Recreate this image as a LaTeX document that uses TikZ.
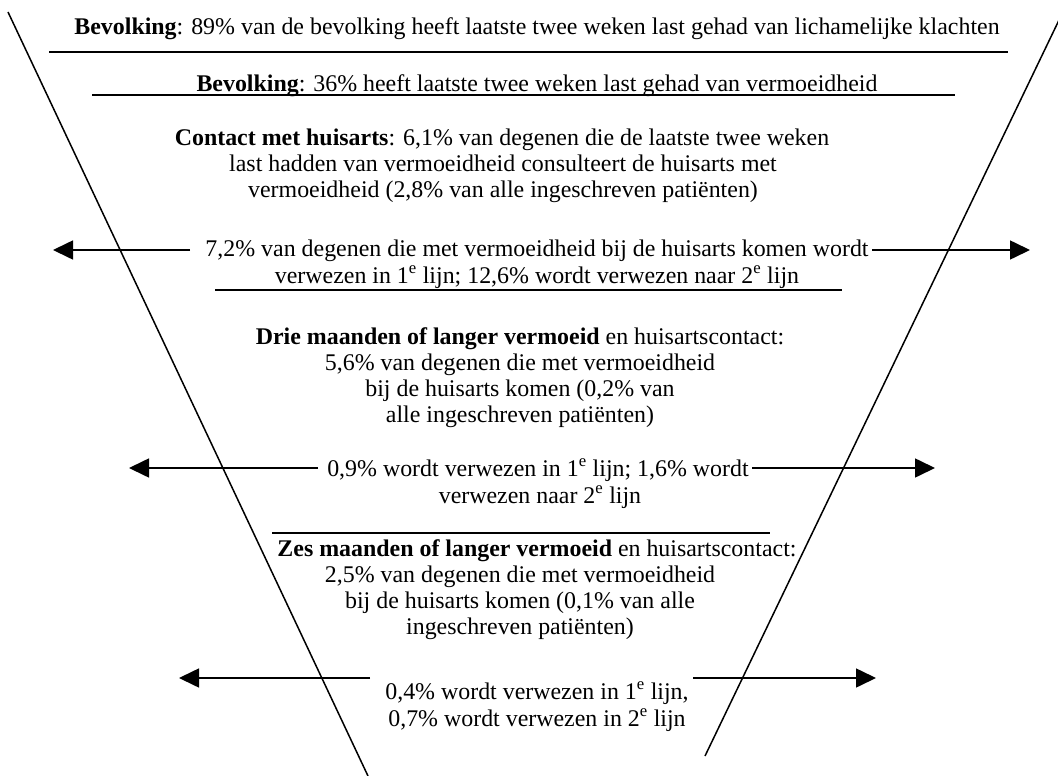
\documentclass[tikz,border=0pt]{standalone}
\usepackage{fontspec}
\setmainfont{Liberation Serif}
\usetikzlibrary{arrows.meta}
\begin{document}
\begin{tikzpicture}[x=1pt,y=-1pt,
  txt/.style={anchor=base,inner sep=0pt,font=\fontsize{23.9}{27}\selectfont},
  rule/.style={line width=1.6pt},
  funnel/.style={line width=1.5pt},
  arr/.style={line width=1.6pt,-{Triangle[length=20pt,width=19pt]}}]
\useasboundingbox (0,0) rectangle (1058,776);
% funnel
\draw[funnel] (8,12) -- (368,776);
\draw[funnel] (1060,18) -- (705,756);
% rules
\draw[rule] (49,52) -- (1008,52);
\draw[rule] (92,95) -- (955,95);
\draw[rule] (215,290) -- (842,290);
\draw[rule] (272,533) -- (770,533);
% texts
\node[txt] (t1) at (537,35) {\textbf{Bevolking}: 89\% van de bevolking heeft laatste twee weken last gehad van lichamelijke klachten};
\node[txt] (t2) at (537,92) {\textbf{Bevolking}: 36\% heeft laatste twee weken last gehad van vermoeidheid};
\node[txt] (t3a) at (502,145) {\textbf{Contact met huisarts}: 6,1\% van degenen die de laatste twee weken};
\node[txt] (t3b) at (503,171) {last hadden van vermoeidheid consulteert de huisarts met};
\node[txt] (t3c) at (503,197) {vermoeidheid (2,8\% van alle ingeschreven patiënten)};
\node[txt] (t4a) at (537,256) {7,2\% van degenen die met vermoeidheid bij de huisarts komen wordt};
\node[txt] (t4b) at (537,283) {verwezen in 1\textsuperscript{e} lijn; 12,6\% wordt verwezen naar 2\textsuperscript{e} lijn};
\node[txt] (t5a) at (520,344) {\textbf{Drie maanden of langer vermoeid} en huisartscontact:};
\node[txt] (t5b) at (520,370) {5,6\% van degenen die met vermoeidheid};
\node[txt] (t5c) at (520,396) {bij de huisarts komen (0,2\% van};
\node[txt] (t5d) at (520,422) {alle ingeschreven patiënten)};
\node[txt] (t6a) at (538,476) {0,9\% wordt verwezen in 1\textsuperscript{e} lijn; 1,6\% wordt};
\node[txt] (t6b) at (540,503) {verwezen naar 2\textsuperscript{e} lijn};
\node[txt] (t7a) at (537,556) {\textbf{Zes maanden of langer vermoeid} en huisartscontact:};
\node[txt] (t7b) at (520,582) {2,5\% van degenen die met vermoeidheid};
\node[txt] (t7c) at (520,608) {bij de huisarts komen (0,1\% van alle};
\node[txt] (t7d) at (520,634) {ingeschreven patiënten)};
\node[txt] (t8a) at (537,699) {0,4\% wordt verwezen in 1\textsuperscript{e} lijn,};
\node[txt] (t8b) at (537,726) {0,7\% wordt verwezen in 2\textsuperscript{e} lijn};
% arrow ends
\coordinate (a1l) at (190,250); \coordinate (a1lt) at (53,250);
\coordinate (a1r) at (872,250); \coordinate (a1rt) at (1030,250);
\coordinate (a2l) at (318,468); \coordinate (a2lt) at (129,468);
\coordinate (a2r) at (752,468); \coordinate (a2rt) at (935,468);
\coordinate (a3l) at (370,678); \coordinate (a3lt) at (179,678);
\coordinate (a3r) at (693,678); \coordinate (a3rt) at (876,678);
\draw[arr] (a1l) -- (a1lt);
\draw[arr] (a1r) -- (a1rt);
\draw[arr] (a2l) -- (a2lt);
\draw[arr] (a2r) -- (a2rt);
\draw[arr] (a3l) -- (a3lt);
\draw[arr] (a3r) -- (a3rt);
\end{tikzpicture}
\end{document}
